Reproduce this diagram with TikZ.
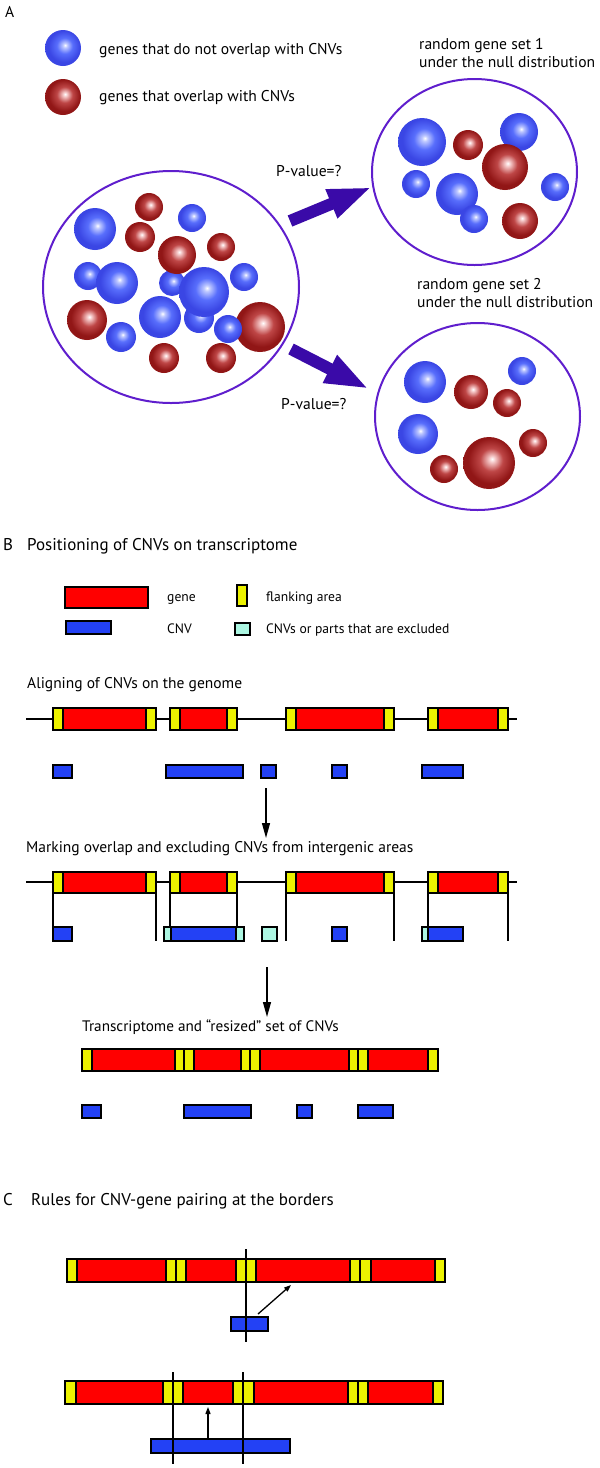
\documentclass[tikz,border=0pt]{standalone}
\usepackage{fontspec}
\setmainfont{PT Sans}
\usetikzlibrary{arrows.meta}
\definecolor{ringc}{RGB}{95,30,205}
\definecolor{arrc}{RGB}{58,10,168}
\definecolor{gred}{RGB}{255,0,0}
\definecolor{gyel}{RGB}{236,242,0}
\definecolor{cblue}{RGB}{35,65,245}
\definecolor{cexc}{RGB}{172,246,226}
\definecolor{bh}{RGB}{190,200,255}
\definecolor{bm}{RGB}{88,110,252}
\definecolor{be}{RGB}{58,70,228}
\definecolor{rh}{RGB}{245,200,200}
\definecolor{rm}{RGB}{190,70,70}
\definecolor{re}{RGB}{145,22,22}
\pgfdeclareradialshading{blueball}{\pgfpoint{3bp}{4bp}}{color(0bp)=(white); color(3bp)=(bh); color(11bp)=(bm); color(22bp)=(be); color(50bp)=(be)}
\pgfdeclareradialshading{redball}{\pgfpoint{3bp}{4bp}}{color(0bp)=(white); color(3bp)=(rh); color(11bp)=(rm); color(22bp)=(re); color(50bp)=(re)}
\newcommand\bball[3]{\shade[shading=blueball] (#1,#2) circle[radius=#3pt];}
\newcommand\rball[3]{\shade[shading=redball] (#1,#2) circle[radius=#3pt];}
\newcommand\fgene[4]{%
  \fill[gred] (#1,#3) rectangle (#2,#4);
  \fill[gyel] (#1,#3) rectangle ({#1+10},#4);
  \fill[gyel] ({#2-10},#3) rectangle (#2,#4);
  \draw[ol] ({#1+10},#3) -- ({#1+10},#4) ({#2-10},#3) -- ({#2-10},#4);
  \draw[ol] (#1,#3) rectangle (#2,#4);}
\begin{document}
\begin{tikzpicture}[x=1pt,y=-1pt,
  ol/.style={draw=black, line width=1.3pt},
  ring/.style={draw=ringc, line width=2pt},
  cnv/.style={ol, fill=cblue},
  exc/.style={ol, fill=cexc},
  txt/.style={anchor=west, inner sep=0pt},
  fa/.style={txt, font=\fontsize{15.6}{18}\selectfont, text height=10.9pt, text depth=1.6pt},
  fh/.style={txt, font=\fontsize{17}{20}\selectfont, text height=11.9pt, text depth=1.7pt},
  fs/.style={txt, font=\fontsize{15.5}{18}\selectfont, text height=10.9pt, text depth=1.6pt},
  fl/.style={txt, font=\fontsize{13.6}{16}\selectfont, text height=9.5pt, text depth=1.4pt},
  bigarrow/.style={arrc, line width=12pt, -{Triangle[length=44pt,width=28pt]}},
  thinarrow/.style={black, line width=1.3pt, -{Triangle[length=15pt,width=8pt]}},
  smallarrow/.style={black, line width=1.3pt, -{Triangle[length=7pt,width=5pt]}}]
\useasboundingbox (0,0) rectangle (600,1468);
% ---------------- A ----------------
\node[fa] (labA) at (5,13) {A};
\bball{63}{48}{18}
\rball{63}{97}{18}
\node[fa] (leg1) at (99,50) {genes that do not overlap with CNVs};
\node[fa] (leg2) at (99,97) {genes that overlap with CNVs};
% big set
\draw[ring] (171,287) ellipse[x radius=128pt, y radius=116pt];
\bball{172}{283}{13}
\bball{199}{318}{15}
\rball{149}{207}{14}
\bball{95}{229}{21}
\rball{140}{237}{15}
\bball{192}{218}{14}
\rball{177}{255}{19}
\rball{221}{247}{14}
\bball{88}{276}{14}
\bball{117}{283}{21}
\bball{204}{292}{25}
\bball{244}{277}{14}
\rball{87}{320}{20}
\bball{160}{317}{21}
\bball{121}{337}{15}
\rball{260}{327}{25}
\bball{228}{329}{14}
\rball{164}{358}{15}
\rball{221}{358}{15}
% set 1
\node[fa] (s1a) at (419,45) {random gene set 1};
\node[fa] (s1b) at (419,63) {under the null distribution};
\draw[ring] (474.5,172) ellipse[x radius=102.5pt, y radius=93pt];
\bball{422}{142}{24}
\rball{468}{145}{15}
\bball{519}{132}{19}
\rball{505}{167}{23}
\bball{416}{184}{14}
\bball{457}{194}{21}
\bball{474}{219}{14}
\bball{555}{187}{14}
\rball{520}{221}{18}
% set 2
\node[fa] (s2a) at (417,285) {random gene set 2};
\node[fa] (s2b) at (417,303) {under the null distribution};
\draw[ring] (477.5,416.5) ellipse[x radius=102.5pt, y radius=93.5pt];
\bball{425}{382}{21}
\rball{471}{392}{17}
\bball{522}{371}{14}
\rball{507}{403}{14}
\bball{418}{434}{20}
\rball{533}{443}{14}
\rball{444}{469}{14}
\rball{489}{463}{26}
% arrows
\node[fa] (pv1) at (276,172) {P-value=?};
\node[fa] (pv2) at (281,405) {P-value=?};
\coordinate (t1) at (290,221);
\coordinate (h1) at (372,187);
\coordinate (t2) at (291,349);
\coordinate (h2) at (369,389);
\draw[bigarrow] (t1) -- (h1);
\draw[bigarrow] (t2) -- (h2);
% ---------------- B ----------------
\node[fh] (labB) at (3,545) {B};
\node[fh] (headB) at (27,545) {Positioning of CNVs on transcriptome};
\draw[ol, fill=gred] (65,587) rectangle (148,608);
\node[fl] (lgene) at (167,597) {gene};
\draw[ol, fill=gyel] (237,585) rectangle (247,606);
\node[fl] (lflank) at (266,597) {flanking area};
\draw[cnv] (66,621) rectangle (111,634);
\node[fl] (lcnv) at (167,629) {CNV};
\draw[exc] (235,623) rectangle (250,635);
\node[fl] (lexc) at (266,629) {CNVs or parts that are excluded};
% row 1
\node[fs] (align) at (27,684) {Aligning of CNVs on the genome};
\draw[black, line width=1.3pt] (26,719) -- (517,719);
\fgene{53}{156}{708}{730}
\fgene{170}{237}{708}{730}
\fgene{286}{394}{708}{730}
\fgene{428}{508}{708}{730}
\draw[cnv] (53,765) rectangle (72,778);
\draw[cnv] (166,765) rectangle (243,778);
\draw[cnv] (261,765) rectangle (276,778);
\draw[cnv] (332,765) rectangle (347,778);
\draw[cnv] (422,765) rectangle (463,778);
\coordinate (a1s) at (266,788);
\coordinate (a1e) at (266,838);
\draw[thinarrow] (a1s) -- (a1e);
% row 2
\node[fs] (mark) at (26,848) {Marking overlap and excluding CNVs from intergenic areas};
\draw[black, line width=1.3pt] (26,882) -- (517,882);
\fgene{53}{156}{872}{893}
\fgene{170}{237}{872}{893}
\fgene{286}{394}{872}{893}
\fgene{428}{508}{872}{893}
\foreach \x in {53,156,170,237,286,394,428,508}
  \draw[black, line width=1.3pt] (\x,893) -- (\x,941);
\draw[cnv] (53,927) rectangle (72,941);
\draw[exc] (164,927) rectangle (244,941);
\draw[cnv] (171,927) rectangle (236,941);
\draw[exc] (262,927) rectangle (277,941);
\draw[cnv] (332,927) rectangle (347,941);
\draw[exc] (422,927) rectangle (428,941);
\draw[cnv] (428,927) rectangle (463,941);
\coordinate (a2s) at (267,967);
\coordinate (a2e) at (267,1017);
\draw[thinarrow] (a2s) -- (a2e);
% row 3
\node[fs, font=\fontsize{15.2}{18}\selectfont] (trans) at (82,1027) {Transcriptome and “resized” set of CNVs};
\foreach \a/\b/\c in {82/92/gyel,92/175/gred,175/184/gyel,184/194/gyel,194/241/gred,241/250/gyel,250/260/gyel,260/349/gred,349/358/gyel,358/368/gyel,368/428/gred,428/438/gyel}
  \draw[ol, fill=\c] (\a,1049) rectangle (\b,1071);
\draw[cnv] (82,1105) rectangle (101,1118);
\draw[cnv] (184,1105) rectangle (251,1118);
\draw[cnv] (297,1105) rectangle (312,1118);
\draw[cnv] (358,1105) rectangle (393,1118);
% ---------------- C ----------------
\node[fh] (labC) at (3,1200) {C};
\node[fh] (headC) at (31,1200) {Rules for CNV-gene pairing at the borders};
\foreach \a/\b/\c in {67/77/gyel,77/166/gred,166/176/gyel,176/186/gyel,186/236/gred,236/246/gyel,246/256/gyel,256/350/gred,350/360/gyel,360/371/gyel,371/435/gred,435/445/gyel}
  \draw[ol, fill=\c] (\a,1259) rectangle (\b,1282);
\draw[cnv] (231,1317) rectangle (268,1331);
\draw[black, line width=1.3pt] (246,1249) -- (246,1342);
\coordinate (c1s) at (258,1314);
\coordinate (c1e) at (291,1285);
\draw[smallarrow] (c1s) -- (c1e);
\foreach \a/\b/\c in {65/76/gyel,76/163/gred,163/173/gyel,173/183/gyel,183/233/gred,233/243/gyel,243/254/gyel,254/348/gred,348/358/gyel,358/368/gyel,368/433/gred,433/443/gyel}
  \draw[ol, fill=\c] (\a,1381) rectangle (\b,1404);
\draw[cnv] (151,1439) rectangle (290,1453);
\draw[black, line width=1.3pt] (173,1372) -- (173,1464);
\draw[black, line width=1.3pt] (243,1372) -- (243,1464);
\coordinate (c2s) at (208,1439);
\coordinate (c2e) at (208,1407);
\draw[smallarrow] (c2s) -- (c2e);
\end{tikzpicture}
\end{document}
